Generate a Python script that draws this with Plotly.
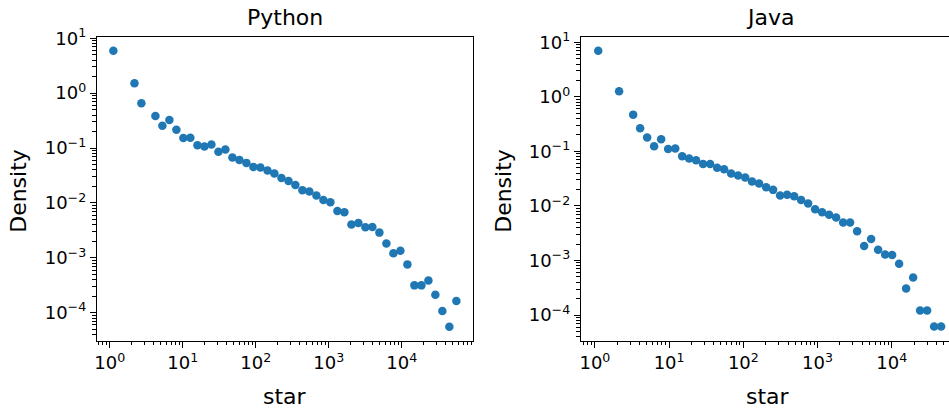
import plotly.graph_objects as go

W, H = 949, 412

# Log-binned star-count densities (bin centres and density per bin)
py_star = [1.12, 2.18, 2.71, 4.22, 5.26, 6.56, 8.18, 10.2, 12.7, 15.9, 19.8, 24.7,
           30.8, 38.4, 47.9, 59.7, 74.5, 92.9, 116, 145, 180, 225, 281, 349, 436,
           543, 678, 845, 1054, 1315, 1640, 2046, 2551, 3180, 3966, 4946, 6169,
           7694, 9596, 11970, 14930, 18620, 23220, 28910, 36060, 44980, 56100]
py_density = [5.94, 1.51, 0.652, 0.382, 0.254, 0.323, 0.215, 0.152, 0.154, 0.113,
              0.107, 0.116, 0.0853, 0.0943, 0.0673, 0.0609, 0.0537, 0.0454, 0.0442,
              0.039, 0.0344, 0.0286, 0.0252, 0.0213, 0.0171, 0.0161, 0.0136, 0.0113,
              0.0103, 0.00715, 0.00676, 0.00403, 0.00431, 0.0036, 0.00365, 0.00288,
              0.00182, 0.00121, 0.00135, 0.00076, 0.000315, 0.000315, 0.000388,
              0.000213, 0.000107, 0.0000556, 0.000163]

java_star = [1.11, 2.12, 3.28, 4.07, 5.06, 6.28, 7.81, 9.70, 12.1, 15.0, 18.6, 23.1,
             28.7, 35.7, 44.4, 55.1, 68.5, 85.1, 106, 131, 163, 203, 252, 313, 389,
             484, 601, 747, 927, 1152, 1432, 1779, 2211, 2747, 3413, 4241, 5270,
             6548, 8136, 10110, 12560, 15610, 19400, 24100, 29950, 37210, 46240]
java_density = [7.02, 1.27, 0.472, 0.266, 0.179, 0.1245, 0.167, 0.111, 0.1125, 0.0816,
                0.0738, 0.069, 0.059, 0.059, 0.0499, 0.0472, 0.0392, 0.036, 0.0331,
                0.028, 0.0257, 0.0221, 0.0197, 0.0155, 0.016, 0.0151, 0.0128, 0.0111,
                0.00873, 0.00769, 0.00687, 0.00614, 0.00497, 0.00497, 0.00345, 0.00184,
                0.00247, 0.00157, 0.00129, 0.00126, 0.000871, 0.000307, 0.000489,
                0.000121, 0.000121, 0.0000618, 0.0000618]

panel_titles = ["Python", "Java"]
x_title = "star"
y_title = "Density"

x_major = [1, 10, 100, 1000, 10000]
x_major_text = ["10<sup>0</sup>", "10<sup>1</sup>", "10<sup>2</sup>",
                "10<sup>3</sup>", "10<sup>4</sup>"]
y_major = [1e-4, 1e-3, 1e-2, 1e-1, 1, 10]
y_major_text = ["10<sup>\u22124</sup>", "10<sup>\u22123</sup>", "10<sup>\u22122</sup>",
                "10<sup>\u22121</sup>", "10<sup>0</sup>", "10<sup>1</sup>"]

x_minor = [m * 10 ** e for e in range(-1, 5) for m in range(2, 10)]
y_minor = [m * 10.0 ** e for e in range(-5, 2) for m in range(2, 10)]

BLUE = "#1f77b4"
FONT = "DejaVu Sans"


def px(x):
    return x / W


def py(y):
    return 1 - y / H


def axis(tickvals, ticktext, minor_vals, rng, domain, mirror):
    return dict(
        type="log", range=rng, domain=domain, automargin=False,
        showgrid=False, zeroline=False,
        showline=True, linecolor="black", linewidth=1.4, mirror=mirror,
        ticks="outside", ticklen=6, tickwidth=1.4, tickcolor="black",
        tickmode="array", tickvals=tickvals, ticktext=ticktext,
        tickfont=dict(family=FONT, size=18, color="black"),
        minor=dict(ticks="outside", ticklen=3.5, tickwidth=1.0, tickcolor="black",
                   tickmode="array", tickvals=minor_vals, showgrid=False),
    )


fig = go.Figure()
fig.add_trace(go.Scatter(x=py_star, y=py_density, mode="markers",
                         marker=dict(color=BLUE, size=8.5), xaxis="x", yaxis="y",
                         showlegend=False))
fig.add_trace(go.Scatter(x=java_star, y=java_density, mode="markers",
                         marker=dict(color=BLUE, size=8.5), xaxis="x2", yaxis="y2",
                         showlegend=False))

y_dom = [py(340.5), py(36.9)]
fig.update_layout(
    width=W, height=H,
    margin=dict(l=0, r=0, t=0, b=0, autoexpand=False),
    paper_bgcolor="white", plot_bgcolor="white",
    xaxis=axis(x_major, x_major_text, x_minor, [-0.175, 4.97], [px(97), px(472.5)], True),
    yaxis=axis(y_major, y_major_text, y_minor, [-4.506, 1.025], y_dom, True),
    xaxis2=axis(x_major, x_major_text, x_minor, [-0.187, 4.771], [px(581), 1.0], True),
    yaxis2=axis(y_major, y_major_text, y_minor, [-4.467, 1.099], y_dom, False),
)
fig.layout.yaxis2.anchor = "x2"
fig.layout.xaxis2.anchor = "y2"

annotations = []
for title, cx in zip(panel_titles, [284.7, 769.5]):
    annotations.append(dict(text=title, x=px(cx), y=py(18), xref="paper", yref="paper",
                            showarrow=False, xanchor="center", yanchor="middle",
                            font=dict(family=FONT, size=22, color="black")))
for cx in [285, 768.3]:
    annotations.append(dict(text=x_title, x=px(cx), y=py(396), xref="paper", yref="paper",
                            showarrow=False, xanchor="center", yanchor="middle",
                            font=dict(family=FONT, size=22, color="black")))
for cx in [18.3, 503.3]:
    annotations.append(dict(text=y_title, x=px(cx), y=py(190.5), xref="paper", yref="paper",
                            showarrow=False, xanchor="center", yanchor="middle", textangle=-90,
                            font=dict(family=FONT, size=22, color="black")))
fig.update_layout(annotations=annotations)

fig.write_html("out.html")
